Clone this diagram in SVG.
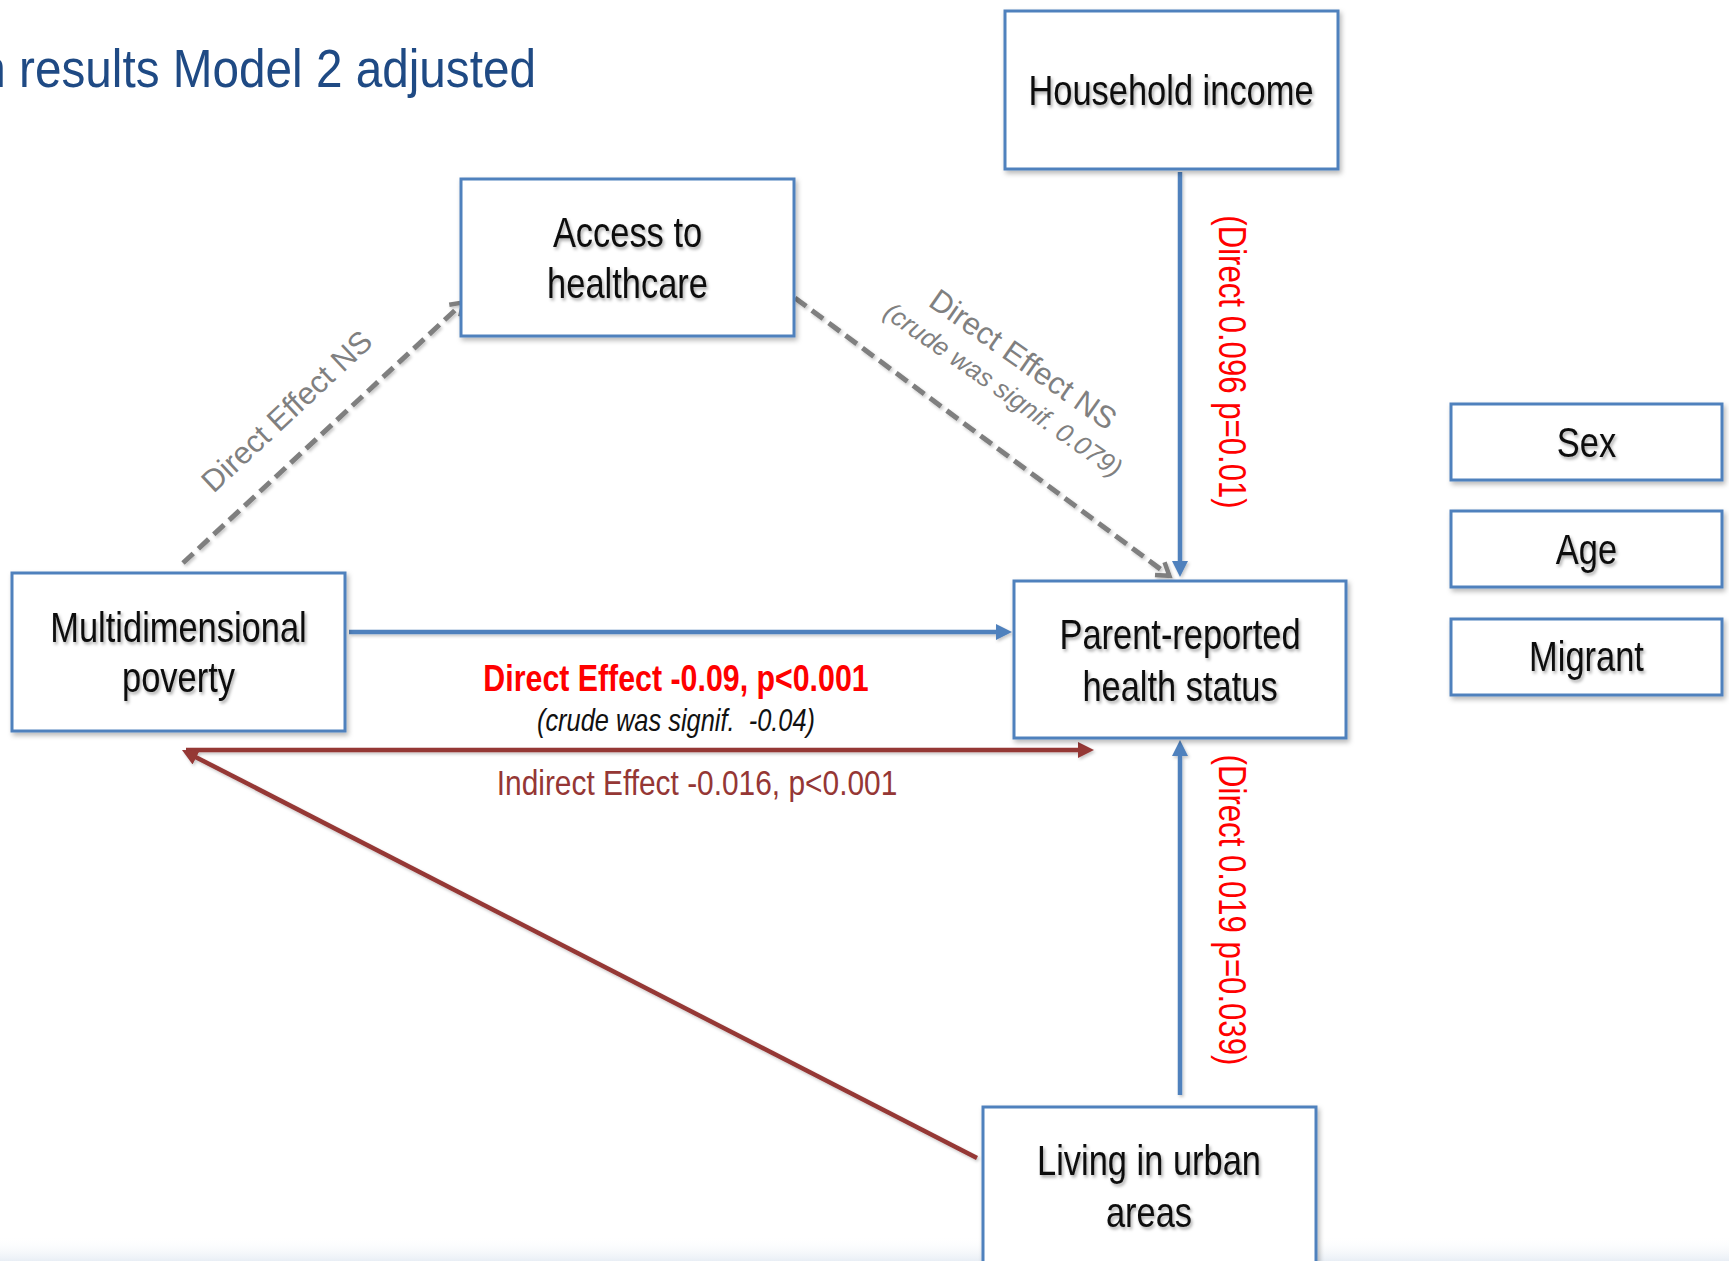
<svg xmlns="http://www.w3.org/2000/svg" width="1729" height="1261" viewBox="0 0 1729 1261">
<defs>
<style>
.box{fill:#fff;stroke:#4F81BD;stroke-width:3}
.nt{font-family:"Liberation Sans",Arial,sans-serif;font-size:42px;fill:#0d0d0d;text-anchor:middle}
.blue{stroke:#4F81BD;stroke-width:4.5;fill:none}
.red{stroke:#953735;stroke-width:4.5;fill:none}
.dash{stroke:#7F7F7F;stroke-width:5;fill:none;stroke-dasharray:14 7}
.gl{font-family:"Liberation Sans",Arial,sans-serif;fill:#808080;text-anchor:middle}
.rl{font-family:"Liberation Sans",Arial,sans-serif;fill:#FF0000;text-anchor:middle}
</style>
<filter id="bsh" filterUnits="userSpaceOnUse" x="0" y="0" width="1729" height="1261"><feDropShadow dx="2" dy="3" stdDeviation="2.5" flood-color="#000" flood-opacity="0.28"/></filter>
<filter id="tsh" x="-15%" y="-30%" width="135%" height="170%"><feDropShadow dx="2" dy="2.5" stdDeviation="1.8" flood-color="#000" flood-opacity="0.33"/></filter>
<filter id="lsh" filterUnits="userSpaceOnUse" x="0" y="0" width="1729" height="1261"><feDropShadow dx="1.5" dy="2" stdDeviation="1.5" flood-color="#000" flood-opacity="0.22"/></filter>
<linearGradient id="foot" x1="0" y1="0" x2="0" y2="1"><stop offset="0" stop-color="#ffffff" stop-opacity="0"/><stop offset="1" stop-color="#dfe7f1" stop-opacity="0.7"/></linearGradient>
<marker id="ab" viewBox="0 0 16 16" refX="8" refY="8" markerWidth="16" markerHeight="16" markerUnits="userSpaceOnUse" orient="auto"><path d="M0,0 L16,8 L0,16 z" fill="#4F81BD"/></marker>
<marker id="ar" viewBox="0 0 16 16" refX="8" refY="8" markerWidth="16" markerHeight="16" markerUnits="userSpaceOnUse" orient="auto"><path d="M0,0 L16,8 L0,16 z" fill="#953735"/></marker>
<marker id="ag" viewBox="-4 -4 24 24" refX="14" refY="8" markerWidth="24" markerHeight="24" markerUnits="userSpaceOnUse" orient="auto"><path d="M2,0 L14,8 L2,16" fill="none" stroke="#7F7F7F" stroke-width="4.5"/></marker>
</defs>
<rect x="0" y="0" width="1729" height="1261" fill="#ffffff"/>
<rect x="0" y="1236" width="1729" height="25" fill="url(#foot)"/>

<text id="title" transform="translate(536,87) scale(0.9,1)" text-anchor="end" font-family="'Liberation Sans',Arial,sans-serif" font-size="53" fill="#1F4A84">n results Model 2 adjusted</text>

<g id="connectors" filter="url(#lsh)">
<path class="dash" d="M183,563 L463.5,302.4" marker-end="url(#ag)"/>
<path class="dash" d="M795,298 L1169.4,575.8" marker-end="url(#ag)"/>
<path class="blue" d="M1180,172 V569" marker-end="url(#ab)"/>
<path class="blue" d="M349,632 H1004" marker-end="url(#ab)"/>
<path class="blue" d="M1180,1095 V748" marker-end="url(#ab)"/>
<path class="red" d="M186,750 H1086" marker-end="url(#ar)"/>
<path class="red" d="M977,1158 L189.1,753.7" marker-end="url(#ar)"/>
</g>

<g id="labels">
<text class="gl" font-size="31" transform="translate(294,419) rotate(-43)">Direct Effect NS</text>
<text class="gl" font-size="31" transform="translate(1017,368) rotate(35)">Direct Effect NS</text>
<text class="gl" font-size="26" font-style="italic" transform="translate(998,397) rotate(35)">(crude was signif. 0.079)</text>
<text class="rl" font-size="38" transform="translate(1219,362) rotate(90) scale(0.82,1)">(Direct 0.096 p=0.01)</text>
<text class="rl" font-size="38" transform="translate(1219,910) rotate(90) scale(0.82,1)">(Direct 0.019 p=0.039)</text>
<text class="rl" font-size="37" font-weight="bold" transform="translate(676,691) scale(0.82,1)">Direct Effect -0.09, p&lt;0.001</text>
<text font-family="'Liberation Sans',Arial,sans-serif" font-size="31" font-style="italic" fill="#111" text-anchor="middle" xml:space="preserve" transform="translate(676,731) scale(0.82,1)">(crude was signif.  -0.04)</text>
<text font-family="'Liberation Sans',Arial,sans-serif" font-size="36" fill="#953735" text-anchor="middle" transform="translate(697,795) scale(0.83,1)">Indirect Effect -0.016, p&lt;0.001</text>
</g>

<g id="household">
<rect class="box" x="1005" y="11" width="333" height="158" filter="url(#bsh)"/>
<text class="nt" filter="url(#tsh)" transform="translate(1171,105) scale(0.82,1)">Household income</text>
</g>
<g id="access">
<rect class="box" x="461" y="179" width="333" height="157" filter="url(#bsh)"/>
<text class="nt" filter="url(#tsh)" transform="translate(627.5,247) scale(0.82,1)">Access to</text>
<text class="nt" filter="url(#tsh)" transform="translate(627.5,298) scale(0.82,1)">healthcare</text>
</g>
<g id="poverty">
<rect class="box" x="12" y="573" width="333" height="158" filter="url(#bsh)"/>
<text class="nt" filter="url(#tsh)" transform="translate(178.5,642) scale(0.82,1)">Multidimensional</text>
<text class="nt" filter="url(#tsh)" transform="translate(178.5,692) scale(0.82,1)">poverty</text>
</g>
<g id="health">
<rect class="box" x="1014" y="581" width="332" height="157" filter="url(#bsh)"/>
<text class="nt" filter="url(#tsh)" transform="translate(1180,649) scale(0.82,1)">Parent-reported</text>
<text class="nt" filter="url(#tsh)" transform="translate(1180,701) scale(0.82,1)">health status</text>
</g>
<g id="urban">
<rect class="box" x="983" y="1107" width="333" height="200" filter="url(#bsh)"/>
<text class="nt" filter="url(#tsh)" transform="translate(1149,1175) scale(0.82,1)">Living in urban</text>
<text class="nt" filter="url(#tsh)" transform="translate(1149,1227) scale(0.82,1)">areas</text>
</g>
<g id="sex">
<rect class="box" x="1451" y="404" width="271" height="76" filter="url(#bsh)"/>
<text class="nt" filter="url(#tsh)" transform="translate(1586.5,457) scale(0.82,1)">Sex</text>
</g>
<g id="age">
<rect class="box" x="1451" y="511" width="271" height="76" filter="url(#bsh)"/>
<text class="nt" filter="url(#tsh)" transform="translate(1586.5,564) scale(0.82,1)">Age</text>
</g>
<g id="migrant">
<rect class="box" x="1451" y="619" width="271" height="76" filter="url(#bsh)"/>
<text class="nt" filter="url(#tsh)" transform="translate(1586.5,671) scale(0.82,1)">Migrant</text>
</g>
</svg>
